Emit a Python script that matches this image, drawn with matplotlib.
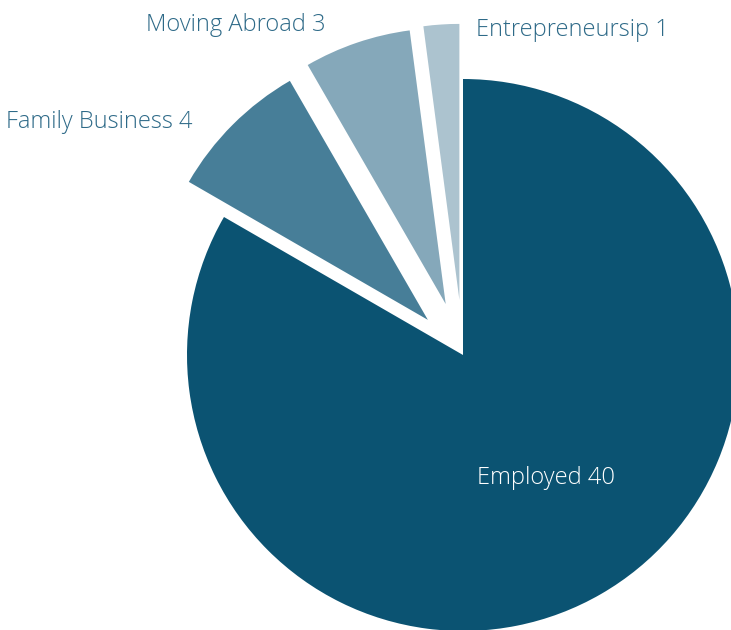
import matplotlib.pyplot as plt

categories = ['Employed', 'Family Business', 'Moving Abroad', 'Entrepreneursip']
counts = [40, 4, 3, 1]
colors = ['#0b5372', '#477e98', '#85a8ba', '#acc3cf']
explode = [0, 0.18, 0.195, 0.2]

plt.rcParams['font.family'] = ['Open Sans', 'DejaVu Sans']

fig = plt.figure(figsize=(7.31, 6.30), dpi=100)
ax = fig.add_axes([0, 0, 1, 1])

wedges, _ = ax.pie(counts, colors=colors, explode=explode, startangle=90,
                   counterclock=False, radius=1.0)


def px(x, y):
    # pixel position in the 731x630 picture -> data units (radius = 276 px)
    return (x - 463) / 276, (355 - y) / 276


# label centres / baselines, in pixels
label_pos = [px(546, 484), px(99, 128), px(236, 31), px(572, 36)]
label_col = ['white', '#2e6a88', '#2e6a88', '#2e6a88']
for name, n, (x, y), c in zip(categories, counts, label_pos, label_col):
    ax.text(x, y, '%s %d' % (name, n), color=c, fontsize=17,
            fontweight='light', ha='center', va='baseline')

ax.set_xlim(-463 / 276, (731 - 463) / 276)
ax.set_ylim(-(630 - 355) / 276, 355 / 276)
ax.set_aspect('auto')
ax.axis('off')

fig.savefig('out.png', dpi=100)
